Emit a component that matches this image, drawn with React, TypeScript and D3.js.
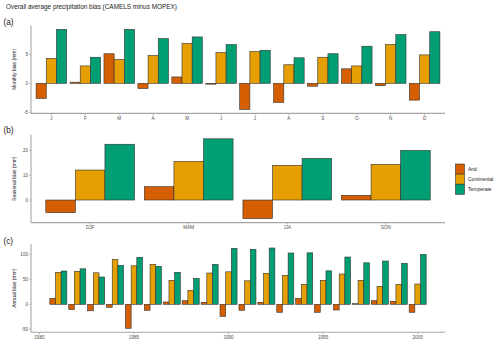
import React from "react";
import * as d3 from "d3";

const groups = ["Arid", "Continental", "Temperate"];
const colors = ["#D55E00", "#E69F00", "#009E73"];

const months = ["J", "F", "M", "A", "M", "J", "J", "A", "S", "O", "N", "D"];
const monthlyArid = [-2.6, 0.2, 5.1, -0.9, 1.1, -0.15, -4.5, -3.3, -0.5, 2.5, -0.4, -2.9];
const monthlyCont = [4.3, 3.0, 4.1, 4.8, 6.9, 5.3, 5.5, 3.2, 4.5, 3.0, 6.7, 4.9];
const monthlyTemp = [9.3, 4.5, 9.3, 7.7, 8.0, 6.7, 5.7, 4.4, 5.1, 6.4, 8.4, 8.9];

const seasons = ["DJF", "MAM", "JJA", "SON"];
const seasonArid = [-5.1, 5.4, -7.5, 1.9];
const seasonCont = [12.1, 15.6, 14.0, 14.4];
const seasonTemp = [22.5, 24.7, 16.8, 20.0];

const years = d3.range(1981, 2001);
const annualArid = [12, -10.7, -13, -6, -48, -12, 4.6, 7.3, 4, -24, -12, 4, -16, 12, -16, -11.4, 1.3, 7.3, 6, -16];
const annualCont = [64, 66, 63, 90, 77, 80, 48, 28, 62.6, 65, 47, 62, 58, 40, 48, 60.6, 48, 36, 40, 40.6];
const annualTemp = [66.6, 71, 54.6, 78, 94, 76, 64, 52, 80, 112, 110, 112.6, 102.6, 103, 67, 94.6, 83, 86.6, 82, 100];

const yearTicks = [1980, 1985, 1990, 1995, 2000];

const left = 31;
const right = 445;
const axisColor = "#a6a6a6";
const tickText = "#4d4d4d";
const font = "Liberation Sans, Arial, sans-serif";

function padDomain(vals: number[]) {
  const lo = d3.min(vals) as number;
  const hi = d3.max(vals) as number;
  const e = (hi - lo) * 0.05;
  return [lo - e, hi + e];
}

function YAxis({ y, ticks, top, bottom, title }: any) {
  return (
    <g>
      <line x1={left} x2={left} y1={top} y2={bottom} stroke={axisColor} strokeWidth={1.1} />
      {ticks.map((t: number) => (
        <g key={t}>
          <line x1={left - 2} x2={left} y1={y(t)} y2={y(t)} stroke={axisColor} strokeWidth={0.8} />
          <text x={left - 3} y={y(t)} dy="0.35em" textAnchor="end" fontSize={4.6} fill={tickText}>
            {t}
          </text>
        </g>
      ))}
      <text
        transform={`translate(16,${(top + bottom) / 2}) rotate(-90)`}
        textAnchor="middle"
        fontSize={5}
        fill="#222"
      >
        {title}
      </text>
    </g>
  );
}

function XAxisLine({ bottom }: any) {
  return <line x1={left} x2={right} y1={bottom} y2={bottom} stroke={axisColor} strokeWidth={1.1} />;
}

function Bars({ xs, series, y, width }: any) {
  const inner = d3.scaleBand().domain(groups).range([-width / 2, width / 2]);
  return (
    <g>
      {xs.map((cx: number, i: number) =>
        groups.map((g, k) => {
          const v = series[k][i];
          const y0 = y(0);
          const y1 = y(v);
          return (
            <rect
              key={`${i}-${g}`}
              x={cx + (inner(g) as number)}
              y={Math.min(y0, y1)}
              width={inner.bandwidth()}
              height={Math.abs(y1 - y0)}
              fill={colors[k]}
              stroke="#333"
              strokeWidth={0.6}
            />
          );
        })
      )}
    </g>
  );
}

export default function App() {
  // panel a
  const aTop = 25.4;
  const aBottom = 113.4;
  const xa = d3.scalePoint().domain(d3.range(12).map(String)).range([left, right]).padding(0.6);
  const ya = d3
    .scaleLinear()
    .domain(padDomain([...monthlyArid, ...monthlyCont, ...monthlyTemp, 0]))
    .range([aBottom, aTop]);
  const monthXs = d3.range(12).map((i) => xa(String(i)) as number);

  // panel b
  const bTop = 134.8;
  const bBottom = 222.6;
  const xb = d3.scalePoint().domain(seasons).range([left, right]).padding(0.6);
  const yb = d3
    .scaleLinear()
    .domain(padDomain([...seasonArid, ...seasonCont, ...seasonTemp, 0]))
    .range([bBottom, bTop]);
  const seasonXs = seasons.map((s) => xb(s) as number);

  // panel c
  const cTop = 244;
  const cBottom = 332.3;
  const xc = d3
    .scaleLinear()
    .domain(padDomain([years[0] - 0.45, years[years.length - 1] + 0.45]))
    .range([left, right]);
  const yc = d3
    .scaleLinear()
    .domain(padDomain([...annualArid, ...annualCont, ...annualTemp, 0]))
    .range([cBottom, cTop]);
  const yearXs = years.map((yr) => xc(yr));
  const yearStep = xc(1) - xc(0);

  return (
    <svg
      width={500}
      height={344}
      style={{ position: "absolute", left: 0, top: 0, background: "#fff" }}
      fontFamily={font}
    >
      <text x={6} y={9} fontSize={6.4} fill="#222">
        Overall average precipitation bias (CAMELS minus MOPEX)
      </text>

      {/* (a) monthly */}
      <text x={3.5} y={25} fontSize={8.2} fill="#222">(a)</text>
      <Bars xs={monthXs} series={[monthlyArid, monthlyCont, monthlyTemp]} y={ya} width={xa.step() * 0.9} />
      <YAxis y={ya} ticks={[-5, 0, 5]} top={aTop} bottom={aBottom} title="Monthly bias (mm)" />
      <XAxisLine bottom={aBottom} />
      {months.map((m, i) => (
        <g key={i}>
          <line x1={monthXs[i]} x2={monthXs[i]} y1={aBottom} y2={aBottom + 2} stroke={axisColor} strokeWidth={0.8} />
          <text x={monthXs[i]} y={aBottom + 6.5} textAnchor="middle" fontSize={4.6} fill={tickText}>{m}</text>
        </g>
      ))}

      {/* (b) seasonal */}
      <text x={3.5} y={133} fontSize={8.2} fill="#222">(b)</text>
      <Bars xs={seasonXs} series={[seasonArid, seasonCont, seasonTemp]} y={yb} width={xb.step() * 0.9} />
      <YAxis y={yb} ticks={[0, 10, 20]} top={bTop} bottom={bBottom} title="Seasonal bias (mm)" />
      <XAxisLine bottom={bBottom} />
      {seasons.map((s, i) => (
        <g key={s}>
          <line x1={seasonXs[i]} x2={seasonXs[i]} y1={bBottom} y2={bBottom + 2} stroke={axisColor} strokeWidth={0.8} />
          <text x={seasonXs[i]} y={bBottom + 6.5} textAnchor="middle" fontSize={4.6} fill={tickText}>{s}</text>
        </g>
      ))}

      {/* legend */}
      {groups.map((g, k) => (
        <g key={g}>
          <rect x={455.5} y={164 + k * 10.1} width={9} height={10.1} fill={colors[k]} stroke="#333" strokeWidth={0.6} />
          <text x={468} y={169 + k * 10.1} dy="0.35em" fontSize={5} fill="#222">{g}</text>
        </g>
      ))}

      {/* (c) annual */}
      <text x={3.5} y={244} fontSize={8.2} fill="#222">(c)</text>
      <Bars xs={yearXs} series={[annualArid, annualCont, annualTemp]} y={yc} width={yearStep * 0.9} />
      <YAxis y={yc} ticks={[-50, 0, 50, 100]} top={cTop} bottom={cBottom} title="Annual bias (mm)" />
      <XAxisLine bottom={cBottom} />
      {yearTicks.map((t) => (
        <g key={t}>
          <line x1={xc(t)} x2={xc(t)} y1={cBottom} y2={cBottom + 2} stroke={axisColor} strokeWidth={0.8} />
          <text x={xc(t)} y={cBottom + 6.5} textAnchor="middle" fontSize={4.6} fill={tickText}>{t}</text>
        </g>
      ))}
    </svg>
  );
}
